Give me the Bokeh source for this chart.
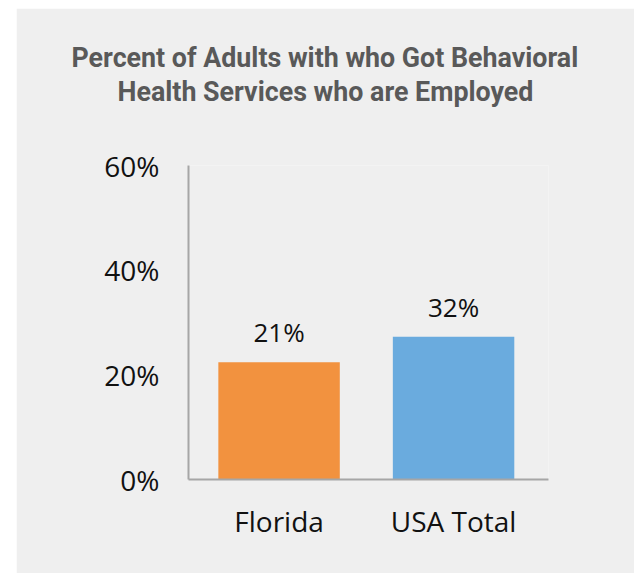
from bokeh.plotting import figure
from bokeh.models import Range1d, FixedTicker, Title, ColumnDataSource
from bokeh.core.properties import value
from bokeh.embed import file_html
from bokeh.resources import INLINE

# ---- data ----
categories = ["Florida", "USA Total"]
bar_values = [22.4, 27.3]          # bar heights as drawn in the reference (%)
bar_labels = ["21%", "32%"]        # data labels printed above bars
bar_colors = ["#f2923f", "#6aabde"]
y_ticks = [0, 20, 40, 60]
y_tick_labels = ["0%", "20%", "40%", "60%"]
title_lines = ["Percent of Adults with who Got Behavioral",
               "Health Services who are Employed"]

BG = "#efefef"
xs = list(range(len(categories)))

p = figure(width=618, height=565, output_backend="svg", toolbar_location=None,
           x_range=Range1d(-0.519, 1.544), y_range=Range1d(0, 60),
           min_border_left=172, min_border_right=86,
           min_border_top=157, min_border_bottom=94,
           background_fill_color=BG, border_fill_color=BG)
p.margin = (8, 0, 0, 16)
p.outline_line_color = None
p.xgrid.grid_line_color = None
p.ygrid.grid_line_color = None

src = ColumnDataSource(dict(x=xs, top=bar_values, color=bar_colors, lab=bar_labels))
p.vbar(x="x", top="top", width=0.696, color="color", source=src, line_color=None)
p.text(x="x", y="top", text="lab", source=src, text_align="center",
       text_baseline="bottom", y_offset=-12,
       text_font=value("Open Sans"), text_font_size="26px",
       text_color="#111111")

for ax in (p.xaxis[0], p.yaxis[0]):
    ax.axis_line_color = "#a6a6a6"
    ax.axis_line_width = 2
    ax.major_tick_line_color = None
    ax.minor_tick_line_color = None
    ax.major_label_text_font = "Open Sans"
    ax.major_label_text_font_size = "28px"
    ax.major_label_text_color = "#111111"

p.yaxis.ticker = FixedTicker(ticks=y_ticks)
p.yaxis.major_label_overrides = {t: l for t, l in zip(y_ticks, y_tick_labels)}
p.yaxis.major_label_standoff = 23
p.xaxis.ticker = FixedTicker(ticks=xs)
p.xaxis.major_label_overrides = {i: c for i, c in zip(xs, categories)}
p.xaxis.major_label_standoff = 16

# spacer between frame and the title block
p.add_layout(Title(text=" ", standoff=45, text_font_size="10px"), "above")
# titles: nearest-to-frame first
for txt, off in zip(reversed(title_lines), [-71, -117]):
    p.add_layout(Title(text=txt, align="left", offset=off, standoff=0,
                       text_font="Roboto", text_font_style="bold",
                       text_font_size="26.8px", text_color="#595959"), "above")

open("out.html", "w").write(file_html(p, INLINE))
